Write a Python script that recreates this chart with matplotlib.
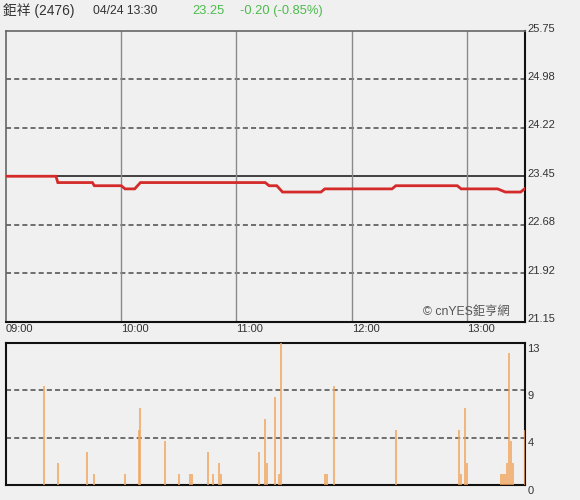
import numpy as np
import matplotlib
matplotlib.use("Agg")
import matplotlib.pyplot as plt
from matplotlib import transforms

# ---------------- data ----------------
stock_name = "鉅祥 (2476)"
stamp = "04/24 13:30"
last_price = "23.25"
change_text = "-0.20 (-0.85%)"
prev_close = 23.45
price_low, price_high = 21.15, 25.75
vol_max = 13

time_labels = ["09:00", "10:00", "11:00", "12:00", "13:00"]
time_ticks = [0, 60, 120, 180, 240]

price_minutes = [0, 26, 27, 45, 46, 60, 62, 67, 70, 135, 137, 141, 144,
                 164, 166, 201, 203, 235, 237, 256, 260, 268, 270]
prices = [23.45, 23.45, 23.35, 23.35, 23.30, 23.30, 23.25, 23.25, 23.35,
          23.35, 23.30, 23.30, 23.20, 23.20, 23.25, 23.25, 23.30, 23.30,
          23.25, 23.25, 23.20, 23.20, 23.25]

vol_minutes = [20, 27, 42, 46, 62, 69, 70, 83, 90, 96, 97, 105, 108, 111, 112,
               132, 135, 136, 140, 142, 143, 166, 167, 171, 203, 236, 237, 239,
               240, 258, 259, 260, 261, 262, 263, 264, 270]
volumes = [9, 2, 3, 1, 1, 5, 7, 4, 1, 1, 1, 3, 1, 2, 1, 3, 6, 2, 8, 1, 13, 1,
           1, 9, 5, 5, 1, 7, 2, 1, 1, 1, 2, 12, 4, 2, 5]

# ---------------- style ----------------
BG = "#f0f0f0"
FONT = ["Liberation Sans", "Noto Sans CJK TC", "DejaVu Sans"]
plt.rcParams["font.family"] = FONT
TXT = "#333333"

W, H = 580, 500
fig = plt.figure(figsize=(W / 100, H / 100), dpi=100, facecolor=BG)

def ax_rect(x0, y0, x1, y1):
    return [x0 / W, 1 - y1 / H, (x1 - x0) / W, (y1 - y0) / H]

ax = fig.add_axes(ax_rect(6, 31, 524.5, 321.5), facecolor=BG)
axv = fig.add_axes(ax_rect(6, 342.5, 524.5, 485), facecolor=BG)

# ---- price panel ----
ax.set_xlim(0, 270)
ax.set_ylim(price_low, price_high)
levels = np.linspace(price_low, price_high, 7)
for lv in levels[1:-1]:
    if abs(lv - prev_close) < 1e-6:
        ax.axhline(lv, color="#111111", lw=1.1, zorder=1)
    else:
        ax.axhline(lv, color="#6e6e6e", lw=1.4, ls=(0, (2.6, 1.6)), zorder=1)
for t in time_ticks[1:]:
    ax.axvline(t, color="#8a8a8a", lw=1.0, zorder=1)
ax.plot(price_minutes, prices, color="#d42a2a", lw=2.0, zorder=3,
        solid_joinstyle="miter")

ax.set_yticks([])
ax.set_xticks(time_ticks)
ax.set_xticklabels(time_labels)
ax.tick_params(axis="x", length=0, pad=2, labelsize=8.0, labelcolor=TXT)
for lab in ax.get_xticklabels():
    lab.set_ha("left")
ytr = transforms.blended_transform_factory(ax.transAxes, ax.transData)
ytr_off = transforms.offset_copy(ytr, fig=fig, x=3, y=2.5, units="dots")
for lv in levels:
    ax.text(1.0, lv, f"{lv:.2f}", transform=ytr_off, ha="left", va="center",
            fontsize=8.0, color=TXT, clip_on=False)

for side in ["top", "left"]:
    ax.spines[side].set_color("#666666")
    ax.spines[side].set_linewidth(1.2)
for side in ["bottom", "right"]:
    ax.spines[side].set_color("#111111")
    ax.spines[side].set_linewidth(1.5)

ax.text(0.972, 0.012, "© cnYES鉅亨網", transform=ax.transAxes, ha="right",
        va="bottom", fontsize=8.8, color="#555555", family=FONT)

# ---- volume panel ----
axv.set_xlim(0, 270)
axv.set_ylim(0, vol_max)
vlevels = np.linspace(0, vol_max, 4)
for lv in vlevels[1:-1]:
    axv.axhline(lv, color="#6e6e6e", lw=1.4, ls=(0, (2.6, 1.6)), zorder=1)
axv.vlines(vol_minutes, 0, volumes, color="#f2a45c", lw=1.1, zorder=3)
axv.set_xticks([])
axv.set_yticks([])
vtr = transforms.blended_transform_factory(axv.transAxes, axv.transData)
vtr_off = transforms.offset_copy(vtr, fig=fig, x=3, y=-6, units="dots")
for lv in vlevels[::-1]:
    axv.text(1.0, lv, f"{round(lv):d}", transform=vtr_off, ha="left", va="center",
             fontsize=8.0, color=TXT, clip_on=False)
for side in ["top", "left", "bottom", "right"]:
    axv.spines[side].set_color("#111111")
    axv.spines[side].set_linewidth(1.5)

# ---- header ----
fig.text(3 / W, 1 - 11 / H, stock_name, ha="left", va="center", fontsize=9.9,
         color=TXT, family=FONT)
fig.text(93 / W, 1 - 11 / H, stamp, ha="left", va="center", fontsize=8.8,
         color=TXT, family=FONT)
fig.text(192 / W, 1 - 11 / H, last_price, ha="left", va="center", fontsize=9.3,
         color="#4cbb4c", family=FONT)
fig.text(240.5 / W, 1 - 11 / H, change_text, ha="left", va="center", fontsize=9.3,
         color="#4cbb4c", family=FONT)

fig.savefig("out.png", dpi=100, facecolor=BG)
